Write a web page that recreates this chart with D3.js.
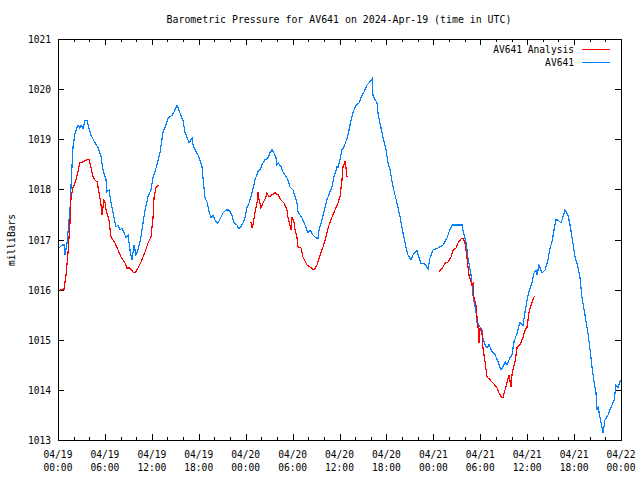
<!DOCTYPE html>
<html><head><meta charset="utf-8">
<script src="https://cdn.jsdelivr.net/npm/d3@7"></script>
<style>
html,body{margin:0;padding:0;background:#fff;}
text{font-family:"DejaVu Sans Mono","Liberation Mono",monospace;font-size:9.6px;fill:#000;}
</style></head><body>
<svg id="c" width="640" height="480"></svg>
<script>
// hours after 2024-04-19 00:00 UTC
const blueHours = [0.13,0.51,0.77,0.90,1.15,1.53,1.66,1.92,2.17,2.56,2.81,2.94,3.20,3.45,3.71,3.96,4.22,4.73,5.12,5.50,5.75,6.14,6.27,6.52,6.78,7.16,7.42,7.67,7.93,8.18,8.57,8.70,8.95,9.21,9.46,9.72,9.98,10.23,10.61,10.87,11.13,11.51,11.89,12.15,12.66,13.04,13.43,13.68,14.07,14.58,14.83,15.22,15.47,15.86,15.99,16.24,16.50,16.75,17.14,17.26,17.65,17.90,18.42,18.54,18.80,19.06,19.31,19.57,19.82,20.08,20.33,20.46,20.85,21.10,21.48,21.87,22.25,22.51,22.89,23.02,23.28,23.66,23.91,24.17,24.43,24.81,25.19,25.58,25.83,26.09,26.47,26.86,27.11,27.37,27.62,27.88,28.01,28.14,28.52,28.77,29.29,29.67,30.05,30.56,30.69,31.20,31.59,31.97,32.23,32.61,32.99,33.25,33.38,33.76,34.15,34.40,34.53,35.04,35.30,35.68,35.81,36.06,36.32,36.58,36.96,37.21,37.47,37.73,38.11,38.49,38.88,39.13,39.52,39.77,40.16,40.28,40.80,40.92,41.18,41.56,41.95,42.20,42.46,42.84,43.35,43.74,44.12,44.50,44.76,45.14,45.40,45.91,46.04,46.42,46.93,47.32,47.57,47.96,48.60,49.24,49.75,50.00,50.39,50.77,51.67,51.79,52.18,52.43,52.82,53.07,53.46,53.58,53.84,54.22,54.35,54.61,54.86,55.12,55.50,55.89,56.27,56.65,56.91,57.17,57.42,57.80,58.06,58.32,58.70,59.08,59.47,59.72,60.11,60.62,60.87,61.13,61.26,61.51,61.90,62.28,62.66,62.92,63.18,63.43,63.69,63.94,64.33,64.58,64.84,65.22,65.48,65.73,66.12,66.50,66.76,67.01,67.40,67.78,68.04,68.29,68.55,68.80,68.93,69.06,69.31,69.57,69.70,69.95,70.34,70.59,70.85,71.12,71.36,71.62,71.87,72.00];
const blueValues = [1016.83,1016.89,1016.89,1016.69,1016.93,1017.59,1018.05,1018.85,1019.12,1019.28,1019.22,1019.28,1019.22,1019.38,1019.38,1019.22,1019.08,1018.93,1018.83,1018.65,1018.39,1018.19,1017.95,1017.99,1017.73,1017.45,1017.25,1017.29,1017.19,1017.23,1017.09,1017.03,1017.09,1016.79,1016.59,1016.89,1016.69,1016.79,1017.05,1017.33,1017.59,1017.85,1017.99,1018.23,1018.49,1018.73,1019.14,1019.24,1019.42,1019.48,1019.54,1019.68,1019.58,1019.42,1019.38,1019.14,1019.04,1018.93,1019.02,1018.89,1018.75,1018.69,1018.45,1018.23,1017.83,1017.75,1017.55,1017.43,1017.49,1017.39,1017.33,1017.33,1017.45,1017.53,1017.59,1017.59,1017.49,1017.33,1017.29,1017.23,1017.23,1017.33,1017.43,1017.63,1017.73,1017.93,1018.19,1018.35,1018.39,1018.49,1018.59,1018.63,1018.73,1018.79,1018.73,1018.63,1018.49,1018.53,1018.45,1018.35,1018.23,1018.05,1017.99,1017.73,1017.55,1017.43,1017.29,1017.13,1017.19,1017.09,1017.03,1017.03,1017.19,1017.39,1017.63,1017.79,1017.85,1018.05,1018.25,1018.45,1018.43,1018.59,1018.79,1018.85,1019.02,1019.18,1019.38,1019.54,1019.68,1019.72,1019.88,1019.94,1020.08,1020.12,1020.20,1019.88,1019.72,1019.52,1019.32,1019.04,1018.79,1018.53,1018.39,1018.05,1017.73,1017.45,1017.13,1016.85,1016.69,1016.59,1016.69,1016.79,1016.69,1016.53,1016.51,1016.41,1016.63,1016.79,1016.83,1016.89,1017.03,1017.15,1017.29,1017.29,1017.29,1017.19,1016.95,1016.63,1016.29,1015.89,1015.55,1015.35,1015.29,1015.19,1015.03,1014.90,1014.84,1014.90,1014.76,1014.70,1014.56,1014.40,1014.46,1014.56,1014.50,1014.64,1014.70,1014.96,1015.13,1015.35,1015.29,1015.55,1015.89,1016.15,1016.33,1016.39,1016.29,1016.49,1016.33,1016.39,1016.59,1016.83,1016.95,1017.19,1017.39,1017.39,1017.33,1017.45,1017.59,1017.49,1017.29,1017.05,1016.65,1016.45,1016.23,1015.85,1015.49,1015.13,1014.80,1014.46,1014.16,1013.94,1013.60,1013.66,1013.46,1013.26,1013.14,1013.40,1013.50,1013.60,1013.70,1013.80,1014.10,1014.04,1014.16,1014.20];

const redHours1 = [0.26,0.77,1.02,1.28,1.53,1.66,1.92,2.30,2.81,3.20,3.71,3.96,4.22,4.48,4.73,4.99,5.24,5.50,5.63,5.88,6.01,6.14,6.52,6.78,7.03,7.29,7.67,8.06,8.57,8.82,9.21,9.59,9.85,10.23,10.61,11.13,11.51,11.89,12.15,12.28,12.53,12.92];
const redValues1 = [1015.99,1016.01,1016.29,1016.73,1017.33,1017.83,1018.03,1018.19,1018.53,1018.55,1018.59,1018.59,1018.43,1018.25,1018.19,1018.15,1017.95,1017.69,1017.49,1017.79,1017.75,1017.59,1017.39,1017.05,1016.99,1016.93,1016.79,1016.65,1016.53,1016.43,1016.43,1016.35,1016.33,1016.43,1016.55,1016.75,1016.93,1017.05,1017.43,1017.83,1018.03,1018.09];
const redHours2 = [24.68,24.81,24.94,25.19,25.45,25.58,25.71,25.96,26.22,26.60,26.73,26.98,27.37,27.75,28.14,28.52,28.90,29.29,29.41,29.67,29.80,29.93,30.18,30.31,30.56,30.69,31.08,31.33,31.84,32.23,32.74,33.12,33.51,33.89,34.27,34.66,35.04,35.55,35.81,36.06,36.32,36.45,36.70,36.83,36.96];
const redValues2 = [1017.35,1017.23,1017.29,1017.53,1017.73,1017.95,1017.79,1017.63,1017.73,1017.85,1017.93,1017.85,1017.89,1017.93,1017.89,1017.79,1017.73,1017.59,1017.43,1017.29,1017.19,1017.45,1017.35,1017.19,1017.05,1016.85,1016.83,1016.65,1016.49,1016.45,1016.39,1016.49,1016.69,1016.85,1017.05,1017.29,1017.45,1017.63,1017.73,1017.85,1018.19,1018.45,1018.55,1018.43,1018.25];
const redHours3 = [48.72,49.24,49.49,49.88,50.26,50.52,50.90,51.15,51.54,51.79,52.05,52.31,52.56,52.94,53.07,53.20,53.46,53.58,53.71,53.84,53.97,54.22,54.35,54.61,54.86,55.25,55.63,56.14,56.40,56.78,56.91,57.17,57.42,57.68,57.93,58.06,58.19,58.45,58.70,59.08,59.47,59.72,59.98,60.24,60.62,60.87,61.00];
const redValues3 = [1016.35,1016.45,1016.53,1016.55,1016.65,1016.79,1016.83,1016.93,1017.01,1017.03,1016.93,1016.63,1016.29,1016.09,1016.13,1015.83,1015.69,1015.45,1015.29,1014.94,1015.23,1015.13,1014.84,1014.56,1014.26,1014.20,1014.14,1014.04,1013.94,1013.84,1013.84,1014.00,1014.14,1014.30,1014.06,1014.30,1014.40,1014.56,1014.84,1014.90,1015.05,1015.19,1015.25,1015.55,1015.75,1015.85,1015.87];

const yTicks = [1013,1014,1015,1016,1017,1018,1019,1020,1021];
const xTickLabels = [["04/19","00:00"],["04/19","06:00"],["04/19","12:00"],["04/19","18:00"],["04/20","00:00"],["04/20","06:00"],["04/20","12:00"],["04/20","18:00"],["04/21","00:00"],["04/21","06:00"],["04/21","12:00"],["04/21","18:00"],["04/22","00:00"]];
const titleText = "Barometric Pressure for AV641 on 2024-Apr-19 (time in UTC)";
const yLabel = "milliBars";
const seriesNames = ["AV641 Analysis","AV641"];
const seriesColors = ["#ff0000","#0080ff"];

const start = Date.UTC(2024,3,19,0,0);
const toDate = h => new Date(start + h*3600000);

const L=58, R=621, T=39, B=440;
const svg = d3.select("#c");
const x = d3.scaleUtc().domain([toDate(0), toDate(72)]).range([L,R]);
const y = d3.scaleLinear().domain([1013,1021]).range([B,T]);

// axes frame
svg.append("rect").attr("x",L+0.5).attr("y",T+0.5).attr("width",R-L).attr("height",B-T)
  .attr("fill","none").attr("stroke","#000").attr("shape-rendering","crispEdges");

const majorX = d3.range(0,73,6).map(toDate);
const minorX = d3.range(0,73,2).filter(h=>h%6!==0).map(toDate);
const tickG = svg.append("g").attr("stroke","#000").attr("shape-rendering","crispEdges");
majorX.forEach(d=>{
  const px=Math.round(x(d))+0.5;
  tickG.append("line").attr("x1",px).attr("x2",px).attr("y1",B).attr("y2",B-6);
  tickG.append("line").attr("x1",px).attr("x2",px).attr("y1",T).attr("y2",T+6);
});
minorX.forEach(d=>{
  const px=Math.round(x(d))+0.5;
  tickG.append("line").attr("x1",px).attr("x2",px).attr("y1",B).attr("y2",B-3);
  tickG.append("line").attr("x1",px).attr("x2",px).attr("y1",T).attr("y2",T+3);
});
yTicks.forEach(v=>{
  const py=Math.round(y(v))+0.5;
  tickG.append("line").attr("x1",L).attr("x2",L+6).attr("y1",py).attr("y2",py);
  tickG.append("line").attr("x1",R).attr("x2",R-6).attr("y1",py).attr("y2",py);
});

// y labels
svg.append("g").selectAll("text").data(yTicks).join("text")
  .attr("x",L-7).attr("y",d=>y(d)+4).attr("text-anchor","end").text(d=>d);
// x labels
const xl = svg.append("g").selectAll("g").data(majorX).join("g");
xl.append("text").attr("x",d=>x(d)).attr("y",458).attr("text-anchor","middle").text((d,i)=>xTickLabels[i][0]);
xl.append("text").attr("x",d=>x(d)).attr("y",471).attr("text-anchor","middle").text((d,i)=>xTickLabels[i][1]);

svg.append("text").attr("x",339).attr("y",23).attr("text-anchor","middle").style("font-size","9.9px").text(titleText);
svg.append("text").attr("transform","translate(15,240) rotate(-90)").attr("text-anchor","middle").text(yLabel);

// lines
const line = d3.line().x(d=>x(toDate(d[0]))).y(d=>y(d[1]));
const zip=(a,b)=>a.map((h,i)=>[h,b[i]]);
const plot = svg.append("g").attr("shape-rendering","crispEdges");
plot.append("path").datum(zip(blueHours,blueValues)).attr("d",line).attr("fill","none").attr("stroke",seriesColors[1]).attr("stroke-width",1.2);
[[redHours1,redValues1],[redHours2,redValues2],[redHours3,redValues3]].forEach(([h,v])=>{
  plot.append("path").datum(zip(h,v)).attr("d",line).attr("fill","none").attr("stroke",seriesColors[0]).attr("stroke-width",1.2);
});

// legend
seriesNames.forEach((n,i)=>{
  const yy = 50 + i*13;
  svg.append("text").attr("x",574).attr("y",yy+3).attr("text-anchor","end").text(n);
  svg.append("line").attr("x1",582).attr("x2",610).attr("y1",yy-0.5).attr("y2",yy-0.5)
    .attr("stroke",seriesColors[i]).attr("shape-rendering","crispEdges");
});
</script></body></html>
